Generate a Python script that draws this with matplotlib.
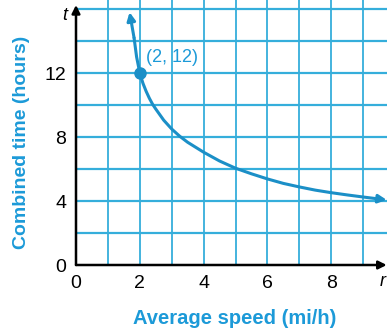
import matplotlib
matplotlib.use("Agg")
import matplotlib.pyplot as plt

# Curve points (average speed r, combined time t)
speed = [1.68, 1.82, 1.9, 2.0, 2.1, 2.2, 2.3, 2.4, 2.5, 2.75, 3.0, 3.25, 3.5, 4.0,
         4.5, 5.0, 5.5, 6.0, 6.5, 7.0, 7.5, 8.0, 8.5, 9.0, 9.4, 9.74]
hours = [15.8, 14.2, 13.0, 12.0, 11.35, 10.85, 10.42, 10.05, 9.75, 9.05, 8.5, 8.05,
         7.67, 7.05, 6.5, 6.05, 5.7, 5.38, 5.1, 4.88, 4.68, 4.52, 4.38, 4.25, 4.15, 4.07]

point_r, point_t = 2, 12
point_label = "(2, 12)"

x_ticks = [0, 2, 4, 6, 8]
y_ticks = [0, 4, 8, 12]

GRID = "#35aedb"
CURVE = "#1b8fc7"
TEXT_BLUE = "#1c9ad8"
FONT = ["Liberation Sans", "DejaVu Sans"]

fig = plt.figure(figsize=(3.87, 3.30), dpi=100)
ax = fig.add_axes([76 / 387, 65 / 330, 311 / 387, 265 / 330])
ax.set_xlim(0, 311 / 31.9)
ax.set_ylim(0, 265 / 16.0)

for s in ax.spines.values():
    s.set_visible(False)

# grid: every 1 unit horizontally, every 2 units vertically
for gx in range(1, 10):
    ax.axvline(gx, color=GRID, lw=1.3, zorder=1)
for gy in range(2, 17, 2):
    ax.axhline(gy, color=GRID, lw=1.6, zorder=1)

arrow_kw = dict(arrowstyle="-|>", lw=1.8, mutation_scale=12, shrinkA=0, shrinkB=0)

# axes with arrowheads
ax.annotate("", xy=(9.74, 0), xytext=(0, 0), annotation_clip=False,
            arrowprops=dict(color="black", **arrow_kw), zorder=4)
ax.annotate("", xy=(0, 16.25), xytext=(0, 0), annotation_clip=False,
            arrowprops=dict(color="black", **arrow_kw), zorder=4)

# curve with arrowheads at both ends
curve_kw = dict(arrowstyle="-|>", lw=2.2, mutation_scale=12, shrinkA=0, shrinkB=0,
                color=CURVE)
ax.plot(speed[1:-1], hours[1:-1], color=CURVE, lw=2.2, zorder=3,
        solid_capstyle="round", solid_joinstyle="round", clip_on=False)
ax.annotate("", xy=(speed[0], hours[0]), xytext=(speed[1], hours[1]),
            annotation_clip=False, arrowprops=curve_kw, zorder=3)
ax.annotate("", xy=(speed[-1], hours[-1]), xytext=(speed[-2], hours[-2]),
            annotation_clip=False, arrowprops=curve_kw, zorder=3)

ax.plot([point_r], [point_t], "o", color=CURVE, ms=8, zorder=5)
ax.text(point_r + 0.2, point_t + 1.0, point_label, color=TEXT_BLUE,
        fontsize=13, family=FONT, ha="left", va="center")

ax.set_xticks(x_ticks)
ax.set_yticks(y_ticks)
ax.set_xticklabels([str(v) for v in x_ticks], family=FONT, fontsize=14)
ax.set_yticklabels([str(v) for v in y_ticks], family=FONT, fontsize=14)
ax.tick_params(length=0, pad=7)

ax.text(-0.35, 15.6, "t", style="italic", fontsize=13, family=FONT,
        ha="center", va="center")
ax.text(9.6, -1.0, "r", style="italic", fontsize=13, family=FONT,
        ha="center", va="center", clip_on=False)

fig.text(235 / 387, 1 - 319 / 330, "Average speed (mi/h)", color=TEXT_BLUE,
         fontsize=14.5, fontweight="bold", family=FONT, ha="center", va="center")
fig.text(22 / 387, 1 - 142 / 330, "Combined time (hours)", color=TEXT_BLUE,
         fontsize=14, fontweight="bold", family=FONT, ha="center", va="center",
         rotation=90)

fig.savefig("out.png", dpi=100)
